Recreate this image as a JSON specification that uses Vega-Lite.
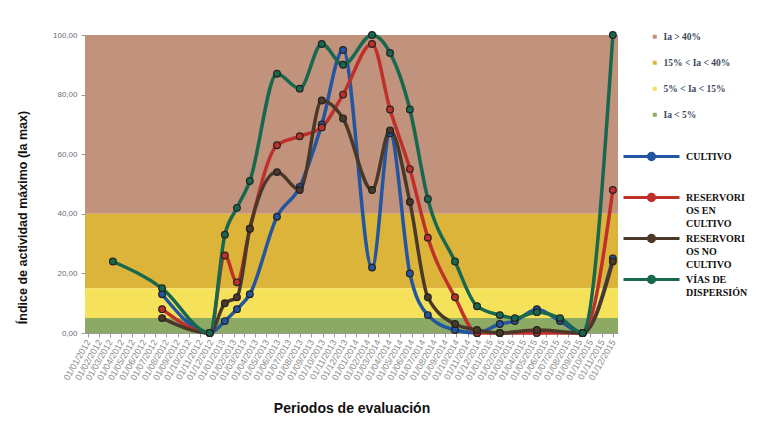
{
  "$schema": "https://vega.github.io/schema/vega-lite/v6.json",
  "width": 533,
  "height": 298,
  "autosize": {"type": "none"},
  "padding": {"left": 85, "top": 35, "right": 149, "bottom": 97},
  "background": "white",
  "config": {"view": {"stroke": null}, "font": "Liberation Sans"},
  "datasets": {
    "bands": [
      {"band": "Ia > 40%", "lo": 40, "hi": 100},
      {"band": "15% < Ia < 40%", "lo": 15, "hi": 40},
      {"band": "5% < Ia < 15%", "lo": 5, "hi": 15},
      {"band": "Ia < 5%", "lo": 0, "hi": 5}
    ],
    "series": [
      {"s": "CULTIVO", "d": "2012-07-21", "v": 13},
      {"s": "CULTIVO", "d": "2012-11-28", "v": 0},
      {"s": "CULTIVO", "d": "2013-01-08", "v": 4},
      {"s": "CULTIVO", "d": "2013-02-10", "v": 8},
      {"s": "CULTIVO", "d": "2013-03-17", "v": 13},
      {"s": "CULTIVO", "d": "2013-05-30", "v": 39},
      {"s": "CULTIVO", "d": "2013-07-31", "v": 49},
      {"s": "CULTIVO", "d": "2013-09-29", "v": 70},
      {"s": "CULTIVO", "d": "2013-11-26", "v": 95},
      {"s": "CULTIVO", "d": "2014-02-13", "v": 22},
      {"s": "CULTIVO", "d": "2014-04-03", "v": 67},
      {"s": "CULTIVO", "d": "2014-05-27", "v": 20},
      {"s": "CULTIVO", "d": "2014-07-15", "v": 6},
      {"s": "CULTIVO", "d": "2014-09-27", "v": 1},
      {"s": "CULTIVO", "d": "2014-11-26", "v": 0},
      {"s": "CULTIVO", "d": "2015-01-27", "v": 3},
      {"s": "CULTIVO", "d": "2015-03-09", "v": 4},
      {"s": "CULTIVO", "d": "2015-05-08", "v": 8},
      {"s": "CULTIVO", "d": "2015-07-10", "v": 4},
      {"s": "CULTIVO", "d": "2015-09-10", "v": 0},
      {"s": "CULTIVO", "d": "2015-12-01", "v": 25},

      {"s": "RESERVORIOS EN CULTIVO", "d": "2012-07-21", "v": 8},
      {"s": "RESERVORIOS EN CULTIVO", "d": "2012-11-28", "v": 0},
      {"s": "RESERVORIOS EN CULTIVO", "d": "2013-01-08", "v": 26},
      {"s": "RESERVORIOS EN CULTIVO", "d": "2013-02-10", "v": 17},
      {"s": "RESERVORIOS EN CULTIVO", "d": "2013-03-17", "v": 35},
      {"s": "RESERVORIOS EN CULTIVO", "d": "2013-05-30", "v": 63},
      {"s": "RESERVORIOS EN CULTIVO", "d": "2013-07-31", "v": 66},
      {"s": "RESERVORIOS EN CULTIVO", "d": "2013-09-29", "v": 69},
      {"s": "RESERVORIOS EN CULTIVO", "d": "2013-11-26", "v": 80},
      {"s": "RESERVORIOS EN CULTIVO", "d": "2014-02-13", "v": 97},
      {"s": "RESERVORIOS EN CULTIVO", "d": "2014-04-03", "v": 75},
      {"s": "RESERVORIOS EN CULTIVO", "d": "2014-05-27", "v": 55},
      {"s": "RESERVORIOS EN CULTIVO", "d": "2014-07-15", "v": 32},
      {"s": "RESERVORIOS EN CULTIVO", "d": "2014-09-27", "v": 12},
      {"s": "RESERVORIOS EN CULTIVO", "d": "2014-11-26", "v": 0},
      {"s": "RESERVORIOS EN CULTIVO", "d": "2015-01-27", "v": 0},
      {"s": "RESERVORIOS EN CULTIVO", "d": "2015-05-08", "v": 0},
      {"s": "RESERVORIOS EN CULTIVO", "d": "2015-09-10", "v": 0},
      {"s": "RESERVORIOS EN CULTIVO", "d": "2015-12-01", "v": 48},

      {"s": "RESERVORIOS NO CULTIVO", "d": "2012-07-21", "v": 5},
      {"s": "RESERVORIOS NO CULTIVO", "d": "2012-11-28", "v": 0},
      {"s": "RESERVORIOS NO CULTIVO", "d": "2013-01-08", "v": 10},
      {"s": "RESERVORIOS NO CULTIVO", "d": "2013-02-10", "v": 12},
      {"s": "RESERVORIOS NO CULTIVO", "d": "2013-03-17", "v": 35},
      {"s": "RESERVORIOS NO CULTIVO", "d": "2013-05-30", "v": 54},
      {"s": "RESERVORIOS NO CULTIVO", "d": "2013-07-31", "v": 48},
      {"s": "RESERVORIOS NO CULTIVO", "d": "2013-09-29", "v": 78},
      {"s": "RESERVORIOS NO CULTIVO", "d": "2013-11-26", "v": 72},
      {"s": "RESERVORIOS NO CULTIVO", "d": "2014-02-13", "v": 48},
      {"s": "RESERVORIOS NO CULTIVO", "d": "2014-04-03", "v": 68},
      {"s": "RESERVORIOS NO CULTIVO", "d": "2014-05-27", "v": 44},
      {"s": "RESERVORIOS NO CULTIVO", "d": "2014-07-15", "v": 12},
      {"s": "RESERVORIOS NO CULTIVO", "d": "2014-09-27", "v": 3},
      {"s": "RESERVORIOS NO CULTIVO", "d": "2014-11-26", "v": 1},
      {"s": "RESERVORIOS NO CULTIVO", "d": "2015-01-27", "v": 0},
      {"s": "RESERVORIOS NO CULTIVO", "d": "2015-05-08", "v": 1},
      {"s": "RESERVORIOS NO CULTIVO", "d": "2015-09-10", "v": 0},
      {"s": "RESERVORIOS NO CULTIVO", "d": "2015-12-01", "v": 24},

      {"s": "VÍAS DE DISPERSIÓN", "d": "2012-03-09", "v": 24},
      {"s": "VÍAS DE DISPERSIÓN", "d": "2012-07-21", "v": 15},
      {"s": "VÍAS DE DISPERSIÓN", "d": "2012-11-28", "v": 0},
      {"s": "VÍAS DE DISPERSIÓN", "d": "2013-01-08", "v": 33},
      {"s": "VÍAS DE DISPERSIÓN", "d": "2013-02-10", "v": 42},
      {"s": "VÍAS DE DISPERSIÓN", "d": "2013-03-17", "v": 51},
      {"s": "VÍAS DE DISPERSIÓN", "d": "2013-05-30", "v": 87},
      {"s": "VÍAS DE DISPERSIÓN", "d": "2013-07-31", "v": 82},
      {"s": "VÍAS DE DISPERSIÓN", "d": "2013-09-29", "v": 97},
      {"s": "VÍAS DE DISPERSIÓN", "d": "2013-11-26", "v": 90},
      {"s": "VÍAS DE DISPERSIÓN", "d": "2014-02-13", "v": 100},
      {"s": "VÍAS DE DISPERSIÓN", "d": "2014-04-03", "v": 94},
      {"s": "VÍAS DE DISPERSIÓN", "d": "2014-05-27", "v": 75},
      {"s": "VÍAS DE DISPERSIÓN", "d": "2014-07-15", "v": 45},
      {"s": "VÍAS DE DISPERSIÓN", "d": "2014-09-27", "v": 24},
      {"s": "VÍAS DE DISPERSIÓN", "d": "2014-11-26", "v": 9},
      {"s": "VÍAS DE DISPERSIÓN", "d": "2015-01-27", "v": 6},
      {"s": "VÍAS DE DISPERSIÓN", "d": "2015-03-09", "v": 5},
      {"s": "VÍAS DE DISPERSIÓN", "d": "2015-05-08", "v": 7},
      {"s": "VÍAS DE DISPERSIÓN", "d": "2015-07-10", "v": 5},
      {"s": "VÍAS DE DISPERSIÓN", "d": "2015-09-10", "v": 0},
      {"s": "VÍAS DE DISPERSIÓN", "d": "2015-12-01", "v": 100}
    ]
  },
  "layer": [
    {
      "data": {"name": "bands"},
      "mark": {"type": "rect"},
      "encoding": {
        "y": {
          "field": "lo", "type": "quantitative",
          "scale": {"domain": [0, 100], "nice": false},
          "axis": {
            "values": [0, 10, 20, 30, 40, 50, 60, 70, 80, 90, 100],
            "labelExpr": "replace(format(datum.value, '.2f'), '.', ',')",
            "labelFont": "Liberation Sans", "labelFontSize": 8, "labelColor": "#6b6f78",
            "labelPadding": 4,
            "grid": false, "domainColor": "#9a9a9a", "tickColor": "#9a9a9a", "tickSize": 4,
            "title": "Índice de actividad máximo (Ia max)",
            "titleFont": "Liberation Sans", "titleFontSize": 12.5, "titleFontWeight": "bold", "titleColor": "#111",
            "titleX": -63, "titleY": 182, "titleAngle": -90, "titleAlign": "center", "titleBaseline": "middle"
          }
        },
        "y2": {"field": "hi"},
        "fill": {
          "field": "band", "type": "nominal",
          "scale": {
            "domain": ["Ia > 40%", "15% < Ia < 40%", "5% < Ia < 15%", "Ia < 5%"],
            "range": ["#C1927C", "#DDB43A", "#F5E15A", "#8CAA64"]
          },
          "legend": {
            "title": null, "orient": "none", "legendX": 565, "legendY": -3,
            "symbolType": "square", "symbolSize": 16, "symbolStrokeWidth": 0,
            "labelFont": "Liberation Serif", "labelFontWeight": "bold", "labelFontSize": 9.5,
            "labelColor": "#3d4a5c", "rowPadding": 15, "padding": 0, "labelOffset": 4
          }
        }
      }
    },
    {
      "data": {"name": "series"},
      "mark": {
        "type": "line", "interpolate": "monotone", "strokeWidth": 3.5,
        "point": {"filled": true, "size": 45, "stroke": "#222", "strokeWidth": 1.2}
      },
      "encoding": {
        "x": {
          "field": "d", "type": "temporal",
          "scale": {"domain": [{"year": 2011, "month": 12, "date": 24}, {"year": 2015, "month": 12, "date": 15}]},
          "axis": {
            "tickCount": {"interval": "month", "step": 1},
            "format": "%d/%m/%Y",
            "labelAngle": -60, "labelAlign": "right", "labelBaseline": "middle",
            "labelFont": "Liberation Sans", "labelFontSize": 9, "labelColor": "#8a8a8a",
            "labelOverlap": false, "labelPadding": 3,
            "grid": false, "domainColor": "#9a9a9a", "tickColor": "#9a9a9a", "tickSize": 4,
            "title": "Periodos de evaluación",
            "titleFont": "Liberation Sans", "titleFontSize": 14, "titleFontWeight": "bold", "titleColor": "#111",
            "titleY": 68
          }
        },
        "y": {"field": "v", "type": "quantitative"},
        "color": {
          "field": "s", "type": "nominal",
          "scale": {
            "domain": ["CULTIVO", "RESERVORIOS EN CULTIVO", "RESERVORIOS NO CULTIVO", "VÍAS DE DISPERSIÓN"],
            "range": ["#2356A0", "#C0302A", "#4A3828", "#17684E"]
          },
          "legend": {
            "title": null, "orient": "none", "legendX": 558, "legendY": 113,
            "symbolType": "M-4,0H4M0.45,0A0.45,0.45 0 1,1 -0.45,0A0.45,0.45 0 1,1 0.45,0Z",
            "symbolSize": 196, "symbolStrokeWidth": 3,
            "labelFont": "Liberation Serif", "labelFontWeight": "bold", "labelFontSize": 10,
            "labelColor": "#111", "labelOffset": 26, "padding": 0, "rowPadding": 0,
            "labelExpr": "datum.label == 'RESERVORIOS EN CULTIVO' ? ['RESERVORI', 'OS EN', 'CULTIVO'] : datum.label == 'RESERVORIOS NO CULTIVO' ? ['RESERVORI', 'OS NO', 'CULTIVO'] : datum.label == 'VÍAS DE DISPERSIÓN' ? ['VÍAS DE', 'DISPERSIÓN', ' '] : ['CULTIVO', ' ', ' ']",
            "encode": {
              "symbols": {"update": {"fill": {"scale": "color", "field": "value"}}},
              "labels": {"update": {"lineHeight": {"value": 13}}}
            }
          }
        }
      }
    }
  ],
  "resolve": {"scale": {"fill": "independent", "color": "independent"}}
}
